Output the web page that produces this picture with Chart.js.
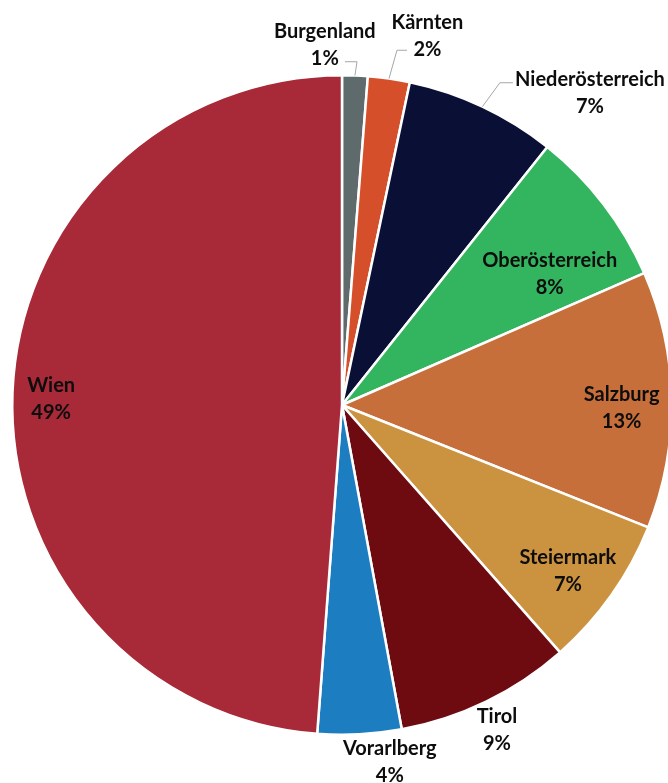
<!doctype html>
<html lang="de">
  <head>
    <meta charset="utf-8">
    <title>Bundesländer</title>
    <style>
      * {
        margin: 0;
        padding: 0;
      }
      html, body {
        width: 668px;
        height: 783px;
        overflow: hidden;
        background: #fff;
      }
      .chartBox {
        position: absolute;
        left: 0;
        top: 0;
        width: 684px;
        height: 783px;
      }
    </style>
  </head>
  <body>
    <div class="chartBox">
      <canvas id="myChart"></canvas>
    </div>
    <script src="https://cdn.jsdelivr.net/npm/chart.js/dist/chart.umd.min.js"></script>
    <script>
// data
const regions = ['Burgenland', 'Kärnten', 'Niederösterreich', 'Oberösterreich', 'Salzburg', 'Steiermark', 'Tirol', 'Vorarlberg', 'Wien'];
const shares = [1.25, 2.05, 7.4, 7.75, 12.6, 7.45, 8.6, 4.1, 48.8];
const colors = ['#5e6a6c', '#d5502a', '#0a0f36', '#33b45f', '#c76f3a', '#cb923f', '#6d0b10', '#1c7dc1', '#a82937'];

// label placement, relative to pie centre in units of the radius
const labelPos = [
  [-0.052, -1.094], [0.259, -1.121], [0.752, -0.948],
  [0.630, -0.398], [0.848, 0.008], [0.685, 0.502],
  [0.470, 0.985], [0.145, 1.082], [-0.882, -0.020]
];
// leader lines for the outside labels: [elbow, end]
const leaders = {
  0: [[0.0455, -1.041], [0.009, -1.041]],
  1: [[0.1667, -1.0758], [0.197, -1.0758]],
  2: [[0.4788, -0.9773], [0.5182, -0.9773]]
};

const labelPlugin = {
  id: 'sliceLabels',
  afterDatasetsDraw(chart) {
    const ctx = chart.ctx;
    const arcs = chart.getDatasetMeta(0).data;
    const total = shares.reduce((a, b) => a + b, 0);
    ctx.save();
    ctx.font = 'bold 20px Lato';
    ctx.fillStyle = '#0d0d0d';
    ctx.textAlign = 'center';
    ctx.textBaseline = 'alphabetic';
    arcs.forEach((arc, i) => {
      const cx = arc.x, cy = arc.y, R = arc.outerRadius;
      if (leaders[i]) {
        const mid = (arc.startAngle + arc.endAngle) / 2;
        const [elbow, end] = leaders[i];
        ctx.strokeStyle = '#a6a6a6';
        ctx.lineWidth = 1;
        ctx.beginPath();
        ctx.moveTo(cx + Math.cos(mid) * R, cy + Math.sin(mid) * R);
        ctx.lineTo(cx + elbow[0] * R, cy + elbow[1] * R);
        ctx.lineTo(cx + end[0] * R, cy + end[1] * R);
        ctx.stroke();
      }
      const lx = cx + labelPos[i][0] * R;
      const ly = cy + labelPos[i][1] * R;
      const pct = Math.round(shares[i] / total * 100) + '%';
      ctx.fillText(regions[i], lx, ly - 13.5 + 7);
      ctx.fillText(pct, lx, ly + 13.5 + 7);
    });
    ctx.restore();
  }
};

new Chart(document.getElementById('myChart'), {
  type: 'pie',
  data: {
    labels: regions,
    datasets: [{
      data: shares,
      backgroundColor: colors,
      borderColor: '#ffffff',
      borderWidth: 2.5
    }]
  },
  options: {
    responsive: true,
    maintainAspectRatio: false,
    animation: false,
    layout: {
      padding: {top: 74, bottom: 47, left: 11, right: 11}
    },
    plugins: {
      legend: {display: false},
      tooltip: {enabled: false}
    }
  },
  plugins: [labelPlugin]
});
    </script>
  </body>
</html>
